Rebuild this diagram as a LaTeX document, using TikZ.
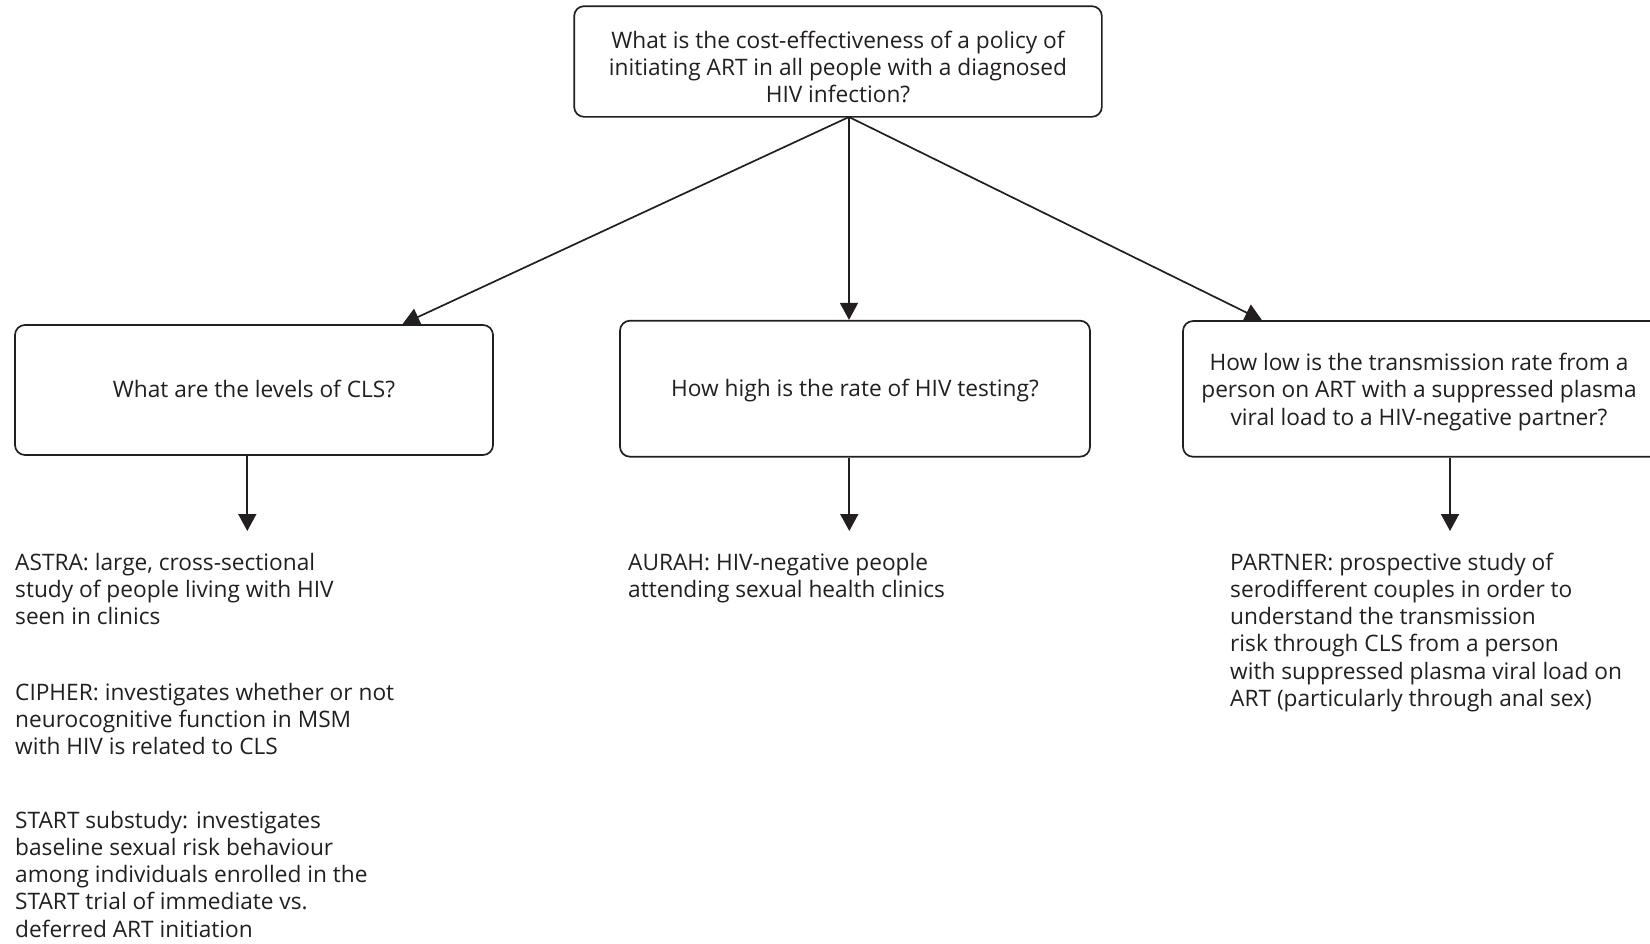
\documentclass[tikz,border=0pt]{standalone}
\usepackage{fontspec}
\setmainfont{Open Sans}
\usetikzlibrary{arrows.meta}
\definecolor{ink}{RGB}{35,31,32}
\newlength\calw
\begin{document}
\settowidth\calw{\fontsize{20pt}{20pt}\selectfont CIPHER: investigates whether or not}
\pgfmathsetmacro\fsz{20*379/\calw}
\newcommand\diafont{\fontsize{\fsz pt}{27.2pt}\selectfont}
\begin{tikzpicture}[x=1pt,y=-1pt,
  qbox/.style={draw=ink, line width=1.7pt, rounded corners=10pt, fill=white,
    font=\diafont, text=ink, align=center, inner sep=0pt},
  oneline/.style={text height=15pt, text depth=0pt},
  txt/.style={anchor=north west, align=left, inner sep=0pt, font=\diafont, text=ink},
  arr/.style={draw=ink, line width=1.7pt, -{Triangle[length=17pt,width=18pt]}}]
\useasboundingbox (0,0) rectangle (1650,943);

% question boxes
\node[qbox, minimum width=527.7pt, minimum height=110.7pt] (top) at (838,61.5)
  {\raisebox{-8.4pt}[\height][\depth]{\begin{tabular}{@{}c@{}}What is the cost-effectiveness of a policy of\\initiating ART in all people with a diagnosed\\HIV infection?\end{tabular}}};
\node[qbox, oneline, minimum width=478pt, minimum height=130pt] (cls) at (254,390)
  {What are the levels of CLS?};
\node[qbox, text height=16pt, text depth=0pt, minimum width=470pt, minimum height=136pt] (test) at (855,388.7)
  {How high is the rate of HIV testing?};
\node[qbox, minimum width=492pt, minimum height=135.7pt] (trans) at (1429,388.9)
  {\raisebox{-3.5pt}[\height][\depth]{\begin{tabular}{@{}c@{\hspace{20pt}}}How low is the transmission rate from a\\person on ART with a suppressed plasma\\viral load to a HIV-negative partner?\end{tabular}}};

% study descriptions
\node[txt] (astra) at (15,551) {\strut ASTRA: large, cross-sectional\\study of people living with HIV\\seen in clinics};
\node[txt] (cipher) at (15,681) {\strut CIPHER: investigates whether or not\\neurocognitive function in MSM\\with HIV is related to CLS};
\node[txt] (start) at (15,809) {\strut START substudy: investigates\\baseline sexual risk behaviour\\among individuals enrolled in the\\START trial of immediate vs.\\deferred ART initiation};
\node[txt] (aurah) at (628,551) {\strut AURAH: HIV-negative people\\attending sexual health clinics};
\node[txt] (partner) at (1230,551) {\strut PARTNER: prospective study of\\serodifferent couples in order to\\understand the transmission\\risk through CLS from a person\\with suppressed plasma viral load on\\ART (particularly through anal sex)};

% connectors
\coordinate (apex) at (849,117);
\draw[arr] (apex) -- ([xshift=148.5pt]cls.north);
\draw[arr] (apex) -- (apex |- test.north);
\draw[arr] (apex) -- ([xshift=-167pt]trans.north);

\coordinate (d1) at (247.3,531);
\coordinate (d2) at (849.3,531);
\coordinate (d3) at (1450,531);
\draw[arr] (d1 |- cls.south) -- (d1);
\draw[arr] (d2 |- test.south) -- (d2);
\draw[arr] (d3 |- trans.south) -- (d3);
\end{tikzpicture}
\end{document}
